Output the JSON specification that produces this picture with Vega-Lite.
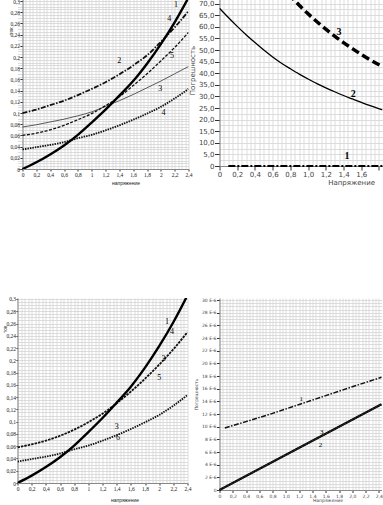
{
  "$schema": "https://vega.github.io/schema/vega-lite/v6.json",
  "padding": {"left": 2.5, "top": -1, "right": 0, "bottom": 0},
  "config": {
    "view": {"stroke": null},
    "axis": {"gridColor": "#d4d4d4", "gridWidth": 0.8, "domainColor": "#888888", "tickColor": "#333333", "labelColor": "#222222", "titleFontWeight": "normal", "titleColor": "#222222", "labelOverlap": false, "labelFlush": false},
    "text": {"fill": "#000000"}
  },
  "datasets": {
    "tl": [
      {"c": "1", "x": 0, "y": 0}, {"c": "1", "x": 0.2, "y": 0.012}, {"c": "1", "x": 0.4, "y": 0.026}, {"c": "1", "x": 0.6, "y": 0.042}, {"c": "1", "x": 0.8, "y": 0.061}, {"c": "1", "x": 1.0, "y": 0.083}, {"c": "1", "x": 1.2, "y": 0.106}, {"c": "1", "x": 1.4, "y": 0.131}, {"c": "1", "x": 1.6, "y": 0.157}, {"c": "1", "x": 1.8, "y": 0.188}, {"c": "1", "x": 2.0, "y": 0.223}, {"c": "1", "x": 2.2, "y": 0.262}, {"c": "1", "x": 2.4, "y": 0.306},
      {"c": "2", "x": 0, "y": 0.1}, {"c": "2", "x": 0.2, "y": 0.106}, {"c": "2", "x": 0.4, "y": 0.114}, {"c": "2", "x": 0.6, "y": 0.122}, {"c": "2", "x": 0.8, "y": 0.132}, {"c": "2", "x": 1.0, "y": 0.143}, {"c": "2", "x": 1.2, "y": 0.155}, {"c": "2", "x": 1.4, "y": 0.169}, {"c": "2", "x": 1.6, "y": 0.185}, {"c": "2", "x": 1.8, "y": 0.203}, {"c": "2", "x": 2.0, "y": 0.227}, {"c": "2", "x": 2.2, "y": 0.253}, {"c": "2", "x": 2.4, "y": 0.282},
      {"c": "3", "x": 0, "y": 0.075}, {"c": "3", "x": 0.2, "y": 0.079}, {"c": "3", "x": 0.4, "y": 0.084}, {"c": "3", "x": 0.6, "y": 0.089}, {"c": "3", "x": 0.8, "y": 0.095}, {"c": "3", "x": 1.0, "y": 0.102}, {"c": "3", "x": 1.2, "y": 0.112}, {"c": "3", "x": 1.4, "y": 0.122}, {"c": "3", "x": 1.6, "y": 0.133}, {"c": "3", "x": 1.8, "y": 0.145}, {"c": "3", "x": 2.0, "y": 0.157}, {"c": "3", "x": 2.2, "y": 0.17}, {"c": "3", "x": 2.4, "y": 0.183},
      {"c": "4", "x": 0, "y": 0.035}, {"c": "4", "x": 0.2, "y": 0.039}, {"c": "4", "x": 0.4, "y": 0.043}, {"c": "4", "x": 0.6, "y": 0.048}, {"c": "4", "x": 0.8, "y": 0.055}, {"c": "4", "x": 1.0, "y": 0.061}, {"c": "4", "x": 1.2, "y": 0.069}, {"c": "4", "x": 1.4, "y": 0.078}, {"c": "4", "x": 1.6, "y": 0.088}, {"c": "4", "x": 1.8, "y": 0.099}, {"c": "4", "x": 2.0, "y": 0.111}, {"c": "4", "x": 2.2, "y": 0.126}, {"c": "4", "x": 2.4, "y": 0.143},
      {"c": "5", "x": 0, "y": 0.06}, {"c": "5", "x": 0.2, "y": 0.064}, {"c": "5", "x": 0.4, "y": 0.07}, {"c": "5", "x": 0.6, "y": 0.078}, {"c": "5", "x": 0.8, "y": 0.088}, {"c": "5", "x": 1.0, "y": 0.099}, {"c": "5", "x": 1.2, "y": 0.113}, {"c": "5", "x": 1.4, "y": 0.129}, {"c": "5", "x": 1.6, "y": 0.149}, {"c": "5", "x": 1.8, "y": 0.17}, {"c": "5", "x": 2.0, "y": 0.193}, {"c": "5", "x": 2.2, "y": 0.217}, {"c": "5", "x": 2.4, "y": 0.244}
    ],
    "tl_lab": [
      {"t": "1", "x": 2.22, "y": 0.292}, {"t": "4", "x": 2.12, "y": 0.268}, {"t": "2", "x": 1.40, "y": 0.193}, {"t": "5", "x": 2.16, "y": 0.202}, {"t": "3", "x": 1.99, "y": 0.143}, {"t": "4", "x": 2.04, "y": 0.1}
    ],
    "tr": [
      {"c": "2", "x": 0, "y": 68}, {"c": "2", "x": 0.1, "y": 64}, {"c": "2", "x": 0.2, "y": 60.2}, {"c": "2", "x": 0.3, "y": 56.6}, {"c": "2", "x": 0.4, "y": 53.2}, {"c": "2", "x": 0.5, "y": 50}, {"c": "2", "x": 0.6, "y": 47}, {"c": "2", "x": 0.7, "y": 44.3}, {"c": "2", "x": 0.8, "y": 41.9}, {"c": "2", "x": 0.9, "y": 39.6}, {"c": "2", "x": 1.0, "y": 37.5}, {"c": "2", "x": 1.1, "y": 35.5}, {"c": "2", "x": 1.2, "y": 33.7}, {"c": "2", "x": 1.3, "y": 32}, {"c": "2", "x": 1.4, "y": 30.4}, {"c": "2", "x": 1.5, "y": 28.9}, {"c": "2", "x": 1.6, "y": 27.4}, {"c": "2", "x": 1.7, "y": 26}, {"c": "2", "x": 1.84, "y": 24.2},
      {"c": "3", "x": 0.78, "y": 74.2}, {"c": "3", "x": 0.9, "y": 69.3}, {"c": "3", "x": 1.0, "y": 65.6}, {"c": "3", "x": 1.1, "y": 62.2}, {"c": "3", "x": 1.2, "y": 59.0}, {"c": "3", "x": 1.3, "y": 56.0}, {"c": "3", "x": 1.4, "y": 53.2}, {"c": "3", "x": 1.5, "y": 50.6}, {"c": "3", "x": 1.6, "y": 48.1}, {"c": "3", "x": 1.7, "y": 45.8}, {"c": "3", "x": 1.84, "y": 42.8},
      {"c": "1", "x": 0.1, "y": 0}, {"c": "1", "x": 1.84, "y": 0}
    ],
    "tr_lab": [
      {"t": "3", "x": 1.35, "y": 57.8}, {"t": "2", "x": 1.51, "y": 31}, {"t": "1", "x": 1.44, "y": 4.5}
    ],
    "bl": [
      {"c": "1", "x": 0, "y": 0}, {"c": "1", "x": 0.2, "y": 0.012}, {"c": "1", "x": 0.4, "y": 0.026}, {"c": "1", "x": 0.6, "y": 0.042}, {"c": "1", "x": 0.8, "y": 0.061}, {"c": "1", "x": 1.0, "y": 0.083}, {"c": "1", "x": 1.2, "y": 0.106}, {"c": "1", "x": 1.4, "y": 0.131}, {"c": "1", "x": 1.6, "y": 0.157}, {"c": "1", "x": 1.8, "y": 0.188}, {"c": "1", "x": 2.0, "y": 0.223}, {"c": "1", "x": 2.2, "y": 0.262}, {"c": "1", "x": 2.4, "y": 0.306},
      {"c": "5", "x": 0, "y": 0.058}, {"c": "5", "x": 0.2, "y": 0.063}, {"c": "5", "x": 0.4, "y": 0.069}, {"c": "5", "x": 0.6, "y": 0.077}, {"c": "5", "x": 0.8, "y": 0.087}, {"c": "5", "x": 1.0, "y": 0.099}, {"c": "5", "x": 1.2, "y": 0.113}, {"c": "5", "x": 1.4, "y": 0.13}, {"c": "5", "x": 1.6, "y": 0.149}, {"c": "5", "x": 1.8, "y": 0.17}, {"c": "5", "x": 2.0, "y": 0.193}, {"c": "5", "x": 2.2, "y": 0.218}, {"c": "5", "x": 2.4, "y": 0.246},
      {"c": "6", "x": 0, "y": 0.035}, {"c": "6", "x": 0.2, "y": 0.039}, {"c": "6", "x": 0.4, "y": 0.043}, {"c": "6", "x": 0.6, "y": 0.048}, {"c": "6", "x": 0.8, "y": 0.055}, {"c": "6", "x": 1.0, "y": 0.061}, {"c": "6", "x": 1.2, "y": 0.069}, {"c": "6", "x": 1.4, "y": 0.078}, {"c": "6", "x": 1.6, "y": 0.088}, {"c": "6", "x": 1.8, "y": 0.099}, {"c": "6", "x": 2.0, "y": 0.111}, {"c": "6", "x": 2.2, "y": 0.126}, {"c": "6", "x": 2.4, "y": 0.1435}
    ],
    "bl_lab": [
      {"t": "1", "x": 2.11, "y": 0.263}, {"t": "4", "x": 2.18, "y": 0.246}, {"t": "3", "x": 2.06, "y": 0.202}, {"t": "5", "x": 2.0, "y": 0.171}, {"t": "3", "x": 1.40, "y": 0.091}, {"t": "6", "x": 1.42, "y": 0.073}
    ],
    "br": [
      {"c": "1", "x": 0.08, "y": 9.8}, {"c": "1", "x": 0.4, "y": 10.8}, {"c": "1", "x": 0.8, "y": 12.1}, {"c": "1", "x": 1.2, "y": 13.5}, {"c": "1", "x": 1.6, "y": 14.9}, {"c": "1", "x": 2.0, "y": 16.3}, {"c": "1", "x": 2.44, "y": 17.8},
      {"c": "2", "x": 0, "y": 0}, {"c": "2", "x": 1.2, "y": 6.66}, {"c": "2", "x": 2.44, "y": 13.55},
      {"c": "3", "x": 0, "y": 0}, {"c": "3", "x": 1.2, "y": 6.66}, {"c": "3", "x": 2.44, "y": 13.55}
    ],
    "br_lab": [
      {"t": "1", "x": 1.23, "y": 14.3}, {"t": "3", "x": 1.54, "y": 9.2}, {"t": "2", "x": 1.52, "y": 7.1}
    ]
  },
  "bounds": "flush",
  "columns": 2,
  "spacing": {"row": 129, "column": 31},
  "concat": [
    {
      "width": 171, "height": 170,
      "encoding": {
        "x": {"field": "x", "type": "quantitative", "scale": {"domain": [-0.0723, 2.4], "nice": false, "zero": false},
          "axis": {"title": "напряжение", "values": [0,0.05,0.1,0.15,0.2,0.25,0.3,0.35,0.4,0.45,0.5,0.55,0.6,0.65,0.7,0.75,0.8,0.85,0.9,0.95,1,1.05,1.1,1.15,1.2,1.25,1.3,1.35,1.4,1.45,1.5,1.55,1.6,1.65,1.7,1.75,1.8,1.85,1.9,1.95,2,2.05,2.1,2.15,2.2,2.25,2.3,2.35,2.4],
            "labelExpr": "abs(datum.value*5-round(datum.value*5))<0.001 ? replace(format(datum.value,'.1~f'),'.',',') : ''",
            "tickOpacity": {"condition": {"test": "abs(datum.value*5-round(datum.value*5))<0.001", "value": 1}, "value": 0},
            "tickSize": 2, "labelPadding": 1, "labelFont": "Liberation Serif", "labelFontSize": 5.5,
            "titleFont": "Liberation Sans", "titleFontSize": 5, "titleX": 108, "titleY": 13, "titleAlign": "center", "titleBaseline": "middle"}},
        "y": {"field": "y", "type": "quantitative", "scale": {"domain": [0, 0.3036], "nice": false},
          "axis": {"title": "ток", "offset": -5, "values": [0,0.005,0.01,0.015,0.02,0.025,0.03,0.035,0.04,0.045,0.05,0.055,0.06,0.065,0.07,0.075,0.08,0.085,0.09,0.095,0.1,0.105,0.11,0.115,0.12,0.125,0.13,0.135,0.14,0.145,0.15,0.155,0.16,0.165,0.17,0.175,0.18,0.185,0.19,0.195,0.2,0.205,0.21,0.215,0.22,0.225,0.23,0.235,0.24,0.245,0.25,0.255,0.26,0.265,0.27,0.275,0.28,0.285,0.29,0.295,0.3],
            "labelExpr": "abs(datum.value*50-round(datum.value*50))<0.001 ? replace(format(datum.value,'.2~f'),'.',',') : ''",
            "tickOpacity": {"condition": {"test": "abs(datum.value*50-round(datum.value*50))<0.001", "value": 1}, "value": 0},
            "tickSize": 2.5, "labelPadding": 0.5, "labelFont": "Liberation Serif", "labelFontSize": 5.5,
            "titleFont": "Liberation Sans", "titleFontSize": 5, "titleX": -12.3, "titleY": 31.7, "titleAngle": -90, "titleAlign": "center", "titleBaseline": "middle"}}
      },
      "layer": [
        {"data": {"name": "tl"}, "transform": [{"filter": "datum.c == '2'"}], "mark": {"type": "line", "color": "#111", "strokeWidth": 1.8, "strokeDash": [5, 1.5, 1.5, 1.5], "interpolate": "monotone", "clip": true}},
        {"data": {"name": "tl"}, "transform": [{"filter": "datum.c == '3'"}], "mark": {"type": "line", "color": "#333", "strokeWidth": 0.8, "interpolate": "monotone", "clip": true}},
        {"data": {"name": "tl"}, "transform": [{"filter": "datum.c == '4'"}], "mark": {"type": "line", "color": "#111", "strokeWidth": 1.8, "strokeDash": [1.5, 1], "interpolate": "monotone", "clip": true}},
        {"data": {"name": "tl"}, "transform": [{"filter": "datum.c == '5'"}], "mark": {"type": "line", "color": "#111", "strokeWidth": 1.3, "strokeDash": [3, 1.5], "interpolate": "monotone", "clip": true}},
        {"data": {"name": "tl"}, "transform": [{"filter": "datum.c == '1'"}], "mark": {"type": "line", "color": "#000", "strokeWidth": 2.4, "interpolate": "monotone", "clip": true}},
        {"data": {"name": "tl_lab"}, "mark": {"type": "text", "font": "Liberation Serif", "fontSize": 8, "fill": "#000000"}, "encoding": {"text": {"field": "t"}}}
      ]
    },
    {
      "width": 163, "height": 167,
      "encoding": {
        "x": {"field": "x", "type": "quantitative", "scale": {"domain": [0, 1.84], "nice": false},
          "axis": {"title": "Напряжение", "values": [0,0.05,0.1,0.15,0.2,0.25,0.3,0.35,0.4,0.45,0.5,0.55,0.6,0.65,0.7,0.75,0.8,0.85,0.9,0.95,1,1.05,1.1,1.15,1.2,1.25,1.3,1.35,1.4,1.45,1.5,1.55,1.6,1.65,1.7,1.75,1.8],
            "labelExpr": "abs(datum.value*5-round(datum.value*5))<0.001 && datum.value < 1.7 ? (datum.value == 0 ? '0' : replace(format(datum.value,'.1f'),'.',',')) : ''",
            "tickOpacity": {"condition": {"test": "abs(datum.value*5-round(datum.value*5))<0.001", "value": 1}, "value": 0},
            "tickSize": 4, "labelPadding": 0.5, "labelFont": "DejaVu Sans", "labelFontSize": 7, "labelColor": "#444",
            "titleFont": "DejaVu Sans", "titleFontSize": 7, "titleColor": "#444", "titleX": 155, "titleY": 16, "titleAlign": "right", "titleBaseline": "middle"}},
        "y": {"field": "y", "type": "quantitative", "scale": {"domain": [0, 72], "nice": false},
          "axis": {"title": "Погрешность", "values": [0,2.5,5,7.5,10,12.5,15,17.5,20,22.5,25,27.5,30,32.5,35,37.5,40,42.5,45,47.5,50,52.5,55,57.5,60,62.5,65,67.5,70],
            "labelExpr": "abs(datum.value/5-round(datum.value/5))<0.001 ? (datum.value == 0 ? '0' : replace(format(datum.value,'.1f'),'.',',')) : ''",
            "tickOpacity": {"condition": {"test": "abs(datum.value/5-round(datum.value/5))<0.001", "value": 1}, "value": 0},
            "tickSize": 5, "labelPadding": 0.5, "labelFont": "DejaVu Sans", "labelFontSize": 7, "labelColor": "#444",
            "titleFont": "DejaVu Sans", "titleFontSize": 7, "titleColor": "#444", "titleX": -27, "titleY": 71, "titleAngle": -90, "titleAlign": "center", "titleBaseline": "middle"}}
      },
      "layer": [
        {"data": {"name": "tr"}, "transform": [{"filter": "datum.c == '2'"}], "mark": {"type": "line", "color": "#000", "strokeWidth": 1.3, "interpolate": "monotone", "clip": true}},
        {"data": {"name": "tr"}, "transform": [{"filter": "datum.c == '3'"}], "mark": {"type": "line", "color": "#000", "strokeWidth": 3.5, "strokeDash": [8, 4], "interpolate": "monotone", "clip": true}},
        {"data": {"name": "tr"}, "transform": [{"filter": "datum.c == '1'"}], "mark": {"type": "line", "color": "#000", "strokeWidth": 2, "strokeDash": [7, 2, 2, 2]}},
        {"data": {"name": "tr_lab"}, "mark": {"type": "text", "font": "Liberation Serif", "fontSize": 10, "fontWeight": "bold", "fill": "#000000"}, "encoding": {"text": {"field": "t"}}}
      ]
    },
    {
      "width": 170, "height": 185,
      "encoding": {
        "x": {"field": "x", "type": "quantitative", "scale": {"domain": [0, 2.4], "nice": false},
          "axis": {"title": "напряжение", "values": [0,0.05,0.1,0.15,0.2,0.25,0.3,0.35,0.4,0.45,0.5,0.55,0.6,0.65,0.7,0.75,0.8,0.85,0.9,0.95,1,1.05,1.1,1.15,1.2,1.25,1.3,1.35,1.4,1.45,1.5,1.55,1.6,1.65,1.7,1.75,1.8,1.85,1.9,1.95,2,2.05,2.1,2.15,2.2,2.25,2.3,2.35,2.4],
            "labelExpr": "abs(datum.value*5-round(datum.value*5))<0.001 ? replace(format(datum.value,'.1~f'),'.',',') : ''",
            "tickOpacity": {"condition": {"test": "abs(datum.value*5-round(datum.value*5))<0.001", "value": 1}, "value": 0},
            "tickSize": 2, "labelPadding": 1, "labelFont": "Liberation Serif", "labelFontSize": 5.5,
            "titleFont": "Liberation Sans", "titleFontSize": 5, "titleX": 107, "titleY": 16.7, "titleAlign": "center", "titleBaseline": "middle"}},
        "y": {"field": "y", "type": "quantitative", "scale": {"domain": [0, 0.3016], "nice": false},
          "axis": {"title": "ток", "values": [0,0.005,0.01,0.015,0.02,0.025,0.03,0.035,0.04,0.045,0.05,0.055,0.06,0.065,0.07,0.075,0.08,0.085,0.09,0.095,0.1,0.105,0.11,0.115,0.12,0.125,0.13,0.135,0.14,0.145,0.15,0.155,0.16,0.165,0.17,0.175,0.18,0.185,0.19,0.195,0.2,0.205,0.21,0.215,0.22,0.225,0.23,0.235,0.24,0.245,0.25,0.255,0.26,0.265,0.27,0.275,0.28,0.285,0.29,0.295,0.3],
            "labelExpr": "abs(datum.value*50-round(datum.value*50))<0.001 ? replace(format(datum.value,'.2~f'),'.',',') : ''",
            "tickOpacity": {"condition": {"test": "abs(datum.value*50-round(datum.value*50))<0.001", "value": 1}, "value": 0},
            "tickSize": 1.5, "labelPadding": 0.5, "labelFont": "Liberation Serif", "labelFontSize": 5.5,
            "titleFont": "Liberation Sans", "titleFontSize": 5, "titleX": -13, "titleY": 31, "titleAngle": -90, "titleAlign": "center", "titleBaseline": "middle"}}
      },
      "layer": [
        {"data": {"name": "bl"}, "transform": [{"filter": "datum.c == '5'"}], "mark": {"type": "line", "color": "#111", "strokeWidth": 1.8, "strokeDash": [2.5, 1], "interpolate": "monotone", "clip": true}},
        {"data": {"name": "bl"}, "transform": [{"filter": "datum.c == '6'"}], "mark": {"type": "line", "color": "#111", "strokeWidth": 1.8, "strokeDash": [1.5, 1], "interpolate": "monotone", "clip": true}},
        {"data": {"name": "bl"}, "transform": [{"filter": "datum.c == '1'"}], "mark": {"type": "line", "color": "#000", "strokeWidth": 2.4, "interpolate": "monotone", "clip": true}},
        {"data": {"name": "bl_lab"}, "mark": {"type": "text", "font": "Liberation Serif", "fontSize": 8, "fill": "#000000"}, "encoding": {"text": {"field": "t"}}}
      ]
    },
    {
      "width": 162, "height": 192,
      "encoding": {
        "x": {"field": "x", "type": "quantitative", "scale": {"domain": [0, 2.44], "nice": false},
          "axis": {"title": "Напряжение", "values": [0,0.05,0.1,0.15,0.2,0.25,0.3,0.35,0.4,0.45,0.5,0.55,0.6,0.65,0.7,0.75,0.8,0.85,0.9,0.95,1,1.05,1.1,1.15,1.2,1.25,1.3,1.35,1.4,1.45,1.5,1.55,1.6,1.65,1.7,1.75,1.8,1.85,1.9,1.95,2,2.05,2.1,2.15,2.2,2.25,2.3,2.35,2.4],
            "labelExpr": "abs(datum.value*5-round(datum.value*5))<0.001 ? (datum.value == 0 ? '0' : replace(format(datum.value,'.1f'),'.',',')) : ''",
            "tickOpacity": {"condition": {"test": "abs(datum.value*5-round(datum.value*5))<0.001", "value": 1}, "value": 0},
            "tickSize": 2.5, "labelPadding": 0.5, "labelFont": "DejaVu Sans", "labelFontSize": 4.5, "labelColor": "#444",
            "titleFont": "DejaVu Sans", "titleFontSize": 4.5, "titleColor": "#444", "titleX": 108, "titleY": 10, "titleAlign": "center", "titleBaseline": "middle"}},
        "y": {"field": "y", "type": "quantitative", "scale": {"domain": [0, 30.32], "nice": false},
          "axis": {"title": "Погрешность", "values": [0,0.5,1,1.5,2,2.5,3,3.5,4,4.5,5,5.5,6,6.5,7,7.5,8,8.5,9,9.5,10,10.5,11,11.5,12,12.5,13,13.5,14,14.5,15,15.5,16,16.5,17,17.5,18,18.5,19,19.5,20,20.5,21,21.5,22,22.5,23,23.5,24,24.5,25,25.5,26,26.5,27,27.5,28,28.5,29,29.5,30],
            "labelExpr": "abs(datum.value/2-round(datum.value/2))<0.001 ? (datum.value == 0 ? '0' : format(datum.value,'d') + ' E-6') : ''",
            "tickOpacity": {"condition": {"test": "abs(datum.value/2-round(datum.value/2))<0.001", "value": 1}, "value": 0},
            "tickSize": 3, "labelPadding": 0.5, "labelFont": "DejaVu Sans", "labelFontSize": 4.5, "labelColor": "#444",
            "titleFont": "DejaVu Sans", "titleFontSize": 4.5, "titleColor": "#444", "titleX": -23, "titleY": 96, "titleAngle": -90, "titleAlign": "center", "titleBaseline": "middle"}}
      },
      "layer": [
        {"data": {"name": "br"}, "transform": [{"filter": "datum.c == '1'"}], "mark": {"type": "line", "color": "#111", "strokeWidth": 1.5, "strokeDash": [5, 1.5, 1.5, 1.5]}},
        {"data": {"name": "br"}, "transform": [{"filter": "datum.c == '2'"}], "mark": {"type": "line", "color": "#000", "strokeWidth": 2.2}},
        {"data": {"name": "br"}, "transform": [{"filter": "datum.c == '3'"}], "mark": {"type": "line", "color": "#222", "strokeWidth": 1.6, "strokeDash": [3, 1]}},
        {"data": {"name": "br_lab"}, "mark": {"type": "text", "font": "Liberation Serif", "fontSize": 7, "fill": "#000000"}, "encoding": {"text": {"field": "t"}}}
      ]
    }
  ]
}
